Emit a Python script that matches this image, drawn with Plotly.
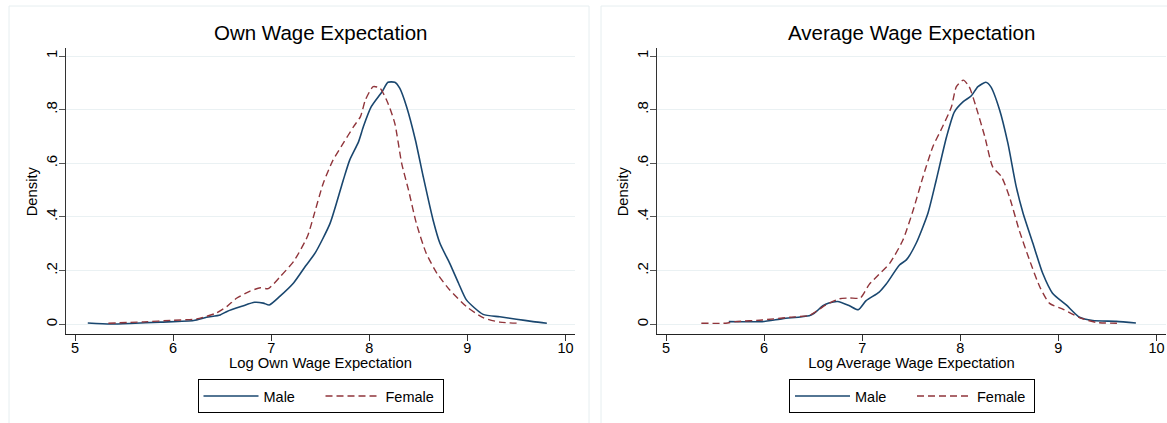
import plotly.graph_objects as go

# ---------------- data ----------------
own_male_x = [5.13, 5.36, 5.56, 5.87, 6.21, 6.34, 6.48, 6.55, 6.70, 6.83, 6.92, 6.98, 7.09, 7.23,
              7.35, 7.45, 7.60, 7.735, 7.80, 7.89, 7.94, 8.02, 8.13, 8.19, 8.26, 8.31, 8.38, 8.47,
              8.55, 8.65, 8.72, 8.82, 8.91, 8.99, 9.16, 9.33, 9.50, 9.67, 9.81]
own_male_y = [0.005, 0.001, 0.003, 0.008, 0.014, 0.026, 0.035, 0.048, 0.067, 0.082, 0.079, 0.072,
              0.105, 0.155, 0.217, 0.267, 0.376, 0.538, 0.612, 0.68, 0.737, 0.811, 0.867, 0.902,
              0.902, 0.88, 0.811, 0.687, 0.55, 0.389, 0.302, 0.227, 0.153, 0.091, 0.037, 0.028,
              0.019, 0.010, 0.004]

own_female_x = [5.34, 5.70, 6.00, 6.24, 6.44, 6.55, 6.65, 6.78, 6.89, 6.97, 7.09, 7.23, 7.37, 7.43,
                7.53, 7.63, 7.735, 7.84, 7.91, 7.96, 8.04, 8.11, 8.19, 8.26, 8.33, 8.40, 8.48, 8.58,
                8.69, 8.82, 8.99, 9.16, 9.33, 9.54]
own_female_y = [0.004, 0.009, 0.015, 0.02, 0.042, 0.067, 0.098, 0.123, 0.136, 0.133, 0.177, 0.235,
                0.328, 0.40, 0.525, 0.612, 0.675, 0.737, 0.774, 0.836, 0.886, 0.88, 0.824, 0.749,
                0.60, 0.50, 0.376, 0.265, 0.19, 0.128, 0.066, 0.025, 0.008, 0.004]

avg_male_x = [5.64, 5.98, 6.19, 6.46, 6.51, 6.60, 6.66, 6.75, 6.87, 6.96, 7.04, 7.17, 7.245, 7.38,
              7.45, 7.55, 7.67, 7.755, 7.86, 7.94, 8.03, 8.11, 8.18, 8.26, 8.31, 8.40, 8.485, 8.57,
              8.64, 8.74, 8.84, 8.94, 9.08, 9.215, 9.35, 9.59, 9.79]
avg_male_y = [0.01, 0.01, 0.021, 0.032, 0.041, 0.069, 0.079, 0.085, 0.069, 0.054, 0.088, 0.119,
              0.150, 0.221, 0.24, 0.302, 0.414, 0.538, 0.699, 0.792, 0.83, 0.851, 0.886, 0.902,
              0.886, 0.80, 0.675, 0.513, 0.414, 0.302, 0.19, 0.116, 0.072, 0.026, 0.014, 0.011,
              0.005]

avg_female_x = [5.36, 5.61, 5.71, 5.98, 6.26, 6.46, 6.53, 6.63, 6.77, 6.87, 6.98, 7.07, 7.17, 7.28,
                7.415, 7.52, 7.62, 7.72, 7.82, 7.91, 7.96, 8.03, 8.09, 8.16, 8.25, 8.33, 8.42, 8.50,
                8.60, 8.705, 8.81, 8.91, 9.05, 9.215, 9.385, 9.62]
avg_female_y = [0.004, 0.004, 0.01, 0.016, 0.026, 0.033, 0.048, 0.072, 0.095, 0.098, 0.098, 0.148,
                0.186, 0.227, 0.314, 0.426, 0.55, 0.662, 0.737, 0.811, 0.886, 0.91, 0.886, 0.811,
                0.699, 0.587, 0.55, 0.476, 0.351, 0.24, 0.14, 0.078, 0.056, 0.025, 0.007, 0.004]

panel_titles = ["Own Wage Expectation", "Average Wage Expectation"]
x_titles = ["Log Own Wage Expectation", "Log Average Wage Expectation"]
y_title = "Density"
x_tickvals = [5, 6, 7, 8, 9, 10]
x_ticktext = ["5", "6", "7", "8", "9", "10"]
y_tickvals = [0, 0.2, 0.4, 0.6, 0.8, 1.0]
y_ticktext = ["0", ".2", ".4", ".6", ".8", "1"]
series_names = ["Male", "Female"]

# ---------------- styling ----------------
W, H = 1167, 423
FONT = "Liberation Sans, Arial, sans-serif"
MALE_C = "#1a476f"
FEMALE_C = "#90353b"
GRID_C = "#eaf1f3"
FRAME_C = "#e6eef0"

def px_x(p):
    return p / W

def px_y(p):
    return 1 - p / H

fig = go.Figure()

panels = [
    (own_male_x, own_male_y, own_female_x, own_female_y),
    (avg_male_x, avg_male_y, avg_female_x, avg_female_y),
]
for i, (mx, my, fx, fy) in enumerate(panels):
    sfx = "" if i == 0 else str(i + 1)
    leg = "legend" if i == 0 else "legend2"
    fig.add_trace(go.Scatter(x=mx, y=my, mode="lines", name=series_names[0],
                             line=dict(color=MALE_C, width=1.6, shape="spline", smoothing=0.6),
                             xaxis="x" + sfx, yaxis="y" + sfx, legend=leg))
    fig.add_trace(go.Scatter(x=fx, y=fy, mode="lines", name=series_names[1],
                             line=dict(color=FEMALE_C, width=1.4, dash="7px,4px",
                                       shape="spline", smoothing=0.6),
                             xaxis="x" + sfx, yaxis="y" + sfx, legend=leg))

# plot-area pixel boxes
areas = [(66, 575), (657, 1166)]
top_px, bot_px = 47.7, 334
xrange_ = [4.908, 10.097]
yrange_ = [-0.0362, 1.031]

layout = dict(
    width=W, height=H,
    margin=dict(l=0, r=0, t=0, b=0),
    paper_bgcolor="white", plot_bgcolor="white",
    font=dict(family=FONT, size=14, color="#000"),
    showlegend=True,
)

for i, (x0, x1) in enumerate(areas):
    sfx = "" if i == 0 else str(i + 1)
    layout["xaxis" + sfx] = dict(
        domain=[px_x(x0), px_x(x1)], anchor="y" + sfx, range=xrange_,
        tickvals=x_tickvals, ticktext=x_ticktext,
        showgrid=False, zeroline=False,
        showline=True, linecolor="#222", linewidth=1.2,
        ticks="outside", ticklen=6, tickcolor="#333", tickwidth=1,
        ticklabelstandoff=-6,
        tickfont=dict(size=14.5, family=FONT),
        title=dict(text=x_titles[i], font=dict(size=14.8, family=FONT), standoff=3),
    )
    layout["yaxis" + sfx] = dict(
        domain=[px_y(bot_px), px_y(top_px)], anchor="x" + sfx, range=yrange_,
        tickvals=y_tickvals, ticktext=y_ticktext, tickangle=-90,
        showgrid=True, gridcolor=GRID_C, gridwidth=1.2, zeroline=False,
        showline=True, linecolor="#333", linewidth=1.2,
        ticks="outside", ticklen=6, tickcolor="#555", tickwidth=1,
        ticklabelstandoff=-4,
        tickfont=dict(size=15, family=FONT),
    )

legend_common = dict(
    orientation="h", xanchor="center", yanchor="top",
    bordercolor="#000", borderwidth=1, bgcolor="white",
    font=dict(size=14.5, family=FONT), itemwidth=55,
    entrywidth=52,
)
layout["legend"] = dict(legend_common, x=px_x((198 + 443) / 2), y=px_y(379))
layout["legend2"] = dict(legend_common, x=px_x((790 + 1034) / 2), y=px_y(379))

annotations = []
for i, (x0, x1) in enumerate(areas):
    annotations.append(dict(text=panel_titles[i], x=px_x((x0 + x1) / 2), y=px_y(32),
                            xref="paper", yref="paper", showarrow=False,
                            xanchor="center", yanchor="middle",
                            font=dict(size=20.5, family=FONT, color="#000")))
    annotations.append(dict(text=y_title, x=px_x(x0 - 34.5), y=px_y((top_px + bot_px) / 2 + 1),
                            xref="paper", yref="paper", showarrow=False, textangle=-90,
                            xanchor="center", yanchor="middle",
                            font=dict(size=14.8, family=FONT, color="#000")))
layout["annotations"] = annotations

layout["shapes"] = [
    dict(type="rect", xref="paper", yref="paper", x0=px_x(9), x1=px_x(589),
         y0=px_y(440), y1=px_y(6), line=dict(color=FRAME_C, width=1), layer="below"),
    dict(type="rect", xref="paper", yref="paper", x0=px_x(601), x1=px_x(1180),
         y0=px_y(440), y1=px_y(6), line=dict(color=FRAME_C, width=1), layer="below"),
]

fig.update_layout(layout)
fig.write_html("out.html", config={"displayModeBar": False},
               post_script="document.body.style.margin='0';document.body.style.overflow='hidden';")
